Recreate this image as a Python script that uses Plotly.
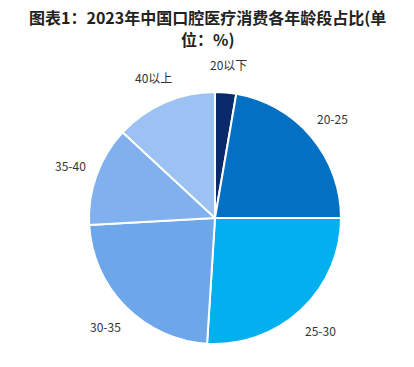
import math
import plotly.graph_objects as go

categories = ["20以下", "20-25", "25-30", "30-35", "35-40", "40以上"]
values = [2.7, 22.3, 26.0, 23.1, 12.8, 13.1]
colors = ["#0b2a6b", "#0470c4", "#02b0ef", "#6ea6ea", "#80b1ee", "#9cc2f4"]
title_lines = ["图表1：2023年中国口腔医疗消费各年龄段占比(单", "位：%)"]

W, H = 414, 367
cx, cy, R = 215, 218, 126  # pixel centre/radius of pie

dom_x = [(cx - R) / W, (cx + R) / W]
dom_y = [(H - cy - R) / H, (H - cy + R) / H]

fig = go.Figure(go.Pie(
    labels=categories,
    values=values,
    sort=False,
    direction="clockwise",
    rotation=0,
    marker=dict(colors=colors, line=dict(color="white", width=2)),
    textinfo="none",
    hoverinfo="label+value",
    domain=dict(x=dom_x, y=dom_y),
    showlegend=False,
))

# labels outside at the mid-angle of each slice
total = sum(values)
cum = 0.0
annotations = []
r_lab = R * 1.22
for cat, v in zip(categories, values):
    mid = (cum + v / 2) / total * 2 * math.pi
    cum += v
    px = cx + r_lab * math.sin(mid)
    py = cy - r_lab * math.cos(mid)
    annotations.append(dict(
        x=px / W, y=1 - py / H, xref="paper", yref="paper",
        text=cat, showarrow=False,
        font=dict(size=12, color="#333333", family="Noto Sans CJK SC"),
        xanchor="center", yanchor="middle",
    ))

for i, line in enumerate(title_lines):
    annotations.append(dict(
        x=0.5, y=1 - (17 + 21.5 * i) / H, xref="paper", yref="paper",
        xanchor="center", yanchor="middle", showarrow=False,
        text="<b>" + line + "</b>", borderpad=0,
        font=dict(size=16, color="#222222", family="Noto Sans CJK SC"),
    ))

fig.update_layout(
    width=W, height=H,
    margin=dict(l=0, r=0, t=0, b=0),
    paper_bgcolor="white",
    plot_bgcolor="white",
    annotations=annotations,
)

fig.write_html("out.html")
